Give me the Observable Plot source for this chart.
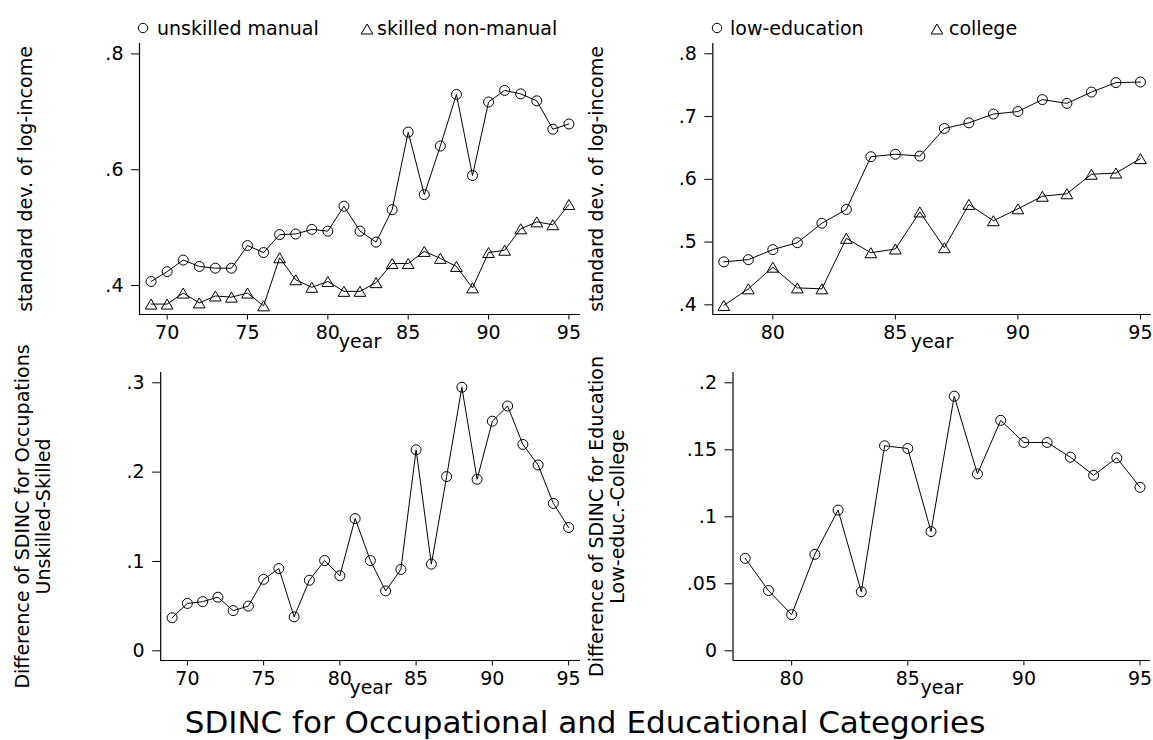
<!DOCTYPE html>
<html>
<head>
<meta charset="utf-8">
<script src="https://cdn.jsdelivr.net/npm/d3@7"></script>
<script src="https://cdn.jsdelivr.net/npm/@observablehq/plot@0.6"></script>
<style>
  html, body { margin: 0; padding: 0; background: #fff; }
  #root { position: relative; width: 1153px; height: 740px; overflow: hidden; font-family: "DejaVu Sans", sans-serif; color: #000; background: #fff; }
  .panel { position: absolute; }
  .leg { position: absolute; font-size: 19px; line-height: 19px; white-space: nowrap; }
  .sym { position: absolute; overflow: visible; }
  #title { position: absolute; left: 20px; width: 1130px; text-align: center; font-size: 31px; line-height: 31px; white-space: nowrap; }
</style>
</head>
<body>
<div id="root"></div>
<script>
// ---------------- data ----------------
const yearsOcc = [69, 70, 71, 72, 73, 74, 75, 76, 77, 78, 79, 80, 81, 82, 83, 84, 85, 86, 87, 88, 89, 90, 91, 92, 93, 94, 95];
const unskilledManual = [0.407, 0.424, 0.444, 0.433, 0.430, 0.430, 0.469, 0.457, 0.488, 0.489, 0.497, 0.494, 0.537, 0.494, 0.475, 0.531, 0.665, 0.557, 0.641, 0.730, 0.590, 0.717, 0.737, 0.731, 0.719, 0.670, 0.679];
const skilledNonManual = [0.368, 0.368, 0.387, 0.370, 0.382, 0.380, 0.387, 0.365, 0.448, 0.410, 0.397, 0.407, 0.390, 0.390, 0.405, 0.438, 0.438, 0.459, 0.447, 0.433, 0.396, 0.457, 0.461, 0.498, 0.510, 0.505, 0.540];
const diffOcc = [0.037, 0.053, 0.055, 0.060, 0.045, 0.050, 0.080, 0.092, 0.038, 0.079, 0.101, 0.084, 0.148, 0.101, 0.067, 0.091, 0.225, 0.097, 0.195, 0.295, 0.192, 0.257, 0.274, 0.231, 0.208, 0.165, 0.138];

const yearsEdu = [78, 79, 80, 81, 82, 83, 84, 85, 86, 87, 88, 89, 90, 91, 92, 93, 94, 95];
const lowEducation = [0.4685, 0.472, 0.488, 0.499, 0.530, 0.552, 0.636, 0.640, 0.637, 0.681, 0.690, 0.704, 0.708, 0.727, 0.721, 0.739, 0.754, 0.755];
const college = [0.399, 0.4255, 0.460, 0.427, 0.4255, 0.506, 0.483, 0.489, 0.548, 0.491, 0.560, 0.534, 0.553, 0.573, 0.577, 0.608, 0.610, 0.633];
const diffEdu = [0.069, 0.045, 0.027, 0.072, 0.105, 0.044, 0.153, 0.151, 0.089, 0.190, 0.132, 0.172, 0.1555, 0.1555, 0.1445, 0.131, 0.144, 0.122];

const xTicksOcc = [70, 75, 80, 85, 90, 95];
const xTicksEdu = [80, 85, 90, 95];
const yTicksOccLevel = [0.4, 0.6, 0.8];
const yTicksEduLevel = [0.4, 0.5, 0.6, 0.7, 0.8];
const yTicksOccDiff = [0, 0.1, 0.2, 0.3];
const yTicksEduDiff = [0, 0.05, 0.1, 0.15, 0.2];

const legendOcc = ["unskilled manual", "skilled non-manual"];
const legendEdu = ["low-education", "college"];
const yLabelLevel = "standard dev. of log-income";
const yLabelOccDiff = "Difference of SDINC for Occupations\nUnskilled-Skilled";
const yLabelEduDiff = "Difference of SDINC for Education\nLow-educ.-College";
const xLabel = "year";
const titleText = "SDINC for Occupational and Educational Categories";

// ---------------- helpers ----------------
const FONT = "DejaVu Sans";
const fmt = d => d === 0 ? "0" : d3.format(".2~f")(d).replace(/^0\./, ".");

const triangle = {
  draw(ctx, size) {
    const r = Math.sqrt(size / Math.PI);
    const hw = 1.17 * r, hh = 1.0 * r;
    ctx.moveTo(0, -hh);
    ctx.lineTo(hw, hh);
    ctx.lineTo(-hw, hh);
    ctx.closePath();
  }
};

function makePanel(cfg) {
  const marks = [
    Plot.ruleX([cfg.xDomain[0]], {stroke: "#000", strokeWidth: 1.2}),
    Plot.ruleY([cfg.yDomain[0]], {stroke: "#000", strokeWidth: 1.2}),
    Plot.axisX(cfg.xTicks, {tickSize: 5.5, tickPadding: 5, fontSize: 19, fontFamily: FONT, label: null, tickFormat: d => String(d), stroke: "#000", fill: "#000"}),
    Plot.axisY(cfg.yTicks, {tickSize: 8, tickPadding: 8, fontSize: 19, fontFamily: FONT, label: null, tickFormat: fmt, stroke: "#000", fill: "#000"}),
    Plot.text([xLabel], {frameAnchor: "bottom", dy: 33, fontSize: 19, fontFamily: FONT, fill: "#000"}),
    Plot.text([cfg.ylabel], {frameAnchor: "left", textAnchor: "middle", lineAnchor: "middle", rotate: -90, dx: cfg.ylabelDx, fontSize: 19, fontFamily: FONT, lineHeight: 1.1, fill: "#000"})
  ];
  cfg.series.forEach(s => {
    const rows = cfg.years.map((year, i) => ({year, value: s.values[i]}));
    marks.push(Plot.line(rows, {x: "year", y: "value", stroke: "#000", strokeWidth: 1}));
    marks.push(Plot.dot(rows, {x: "year", y: "value", r: 5, stroke: "#000", strokeWidth: 1, fill: "none", symbol: s.symbol}));
  });
  const svg = Plot.plot({
    width: cfg.width,
    height: cfg.height,
    marginLeft: cfg.ml,
    marginRight: cfg.mr,
    marginTop: cfg.mt,
    marginBottom: cfg.mb,
    x: {domain: cfg.xDomain},
    y: {domain: cfg.yDomain},
    style: {fontFamily: FONT, fontSize: "19px", background: "transparent", overflow: "visible", color: "#000"},
    marks
  });
  const div = document.createElement("div");
  div.className = "panel";
  div.style.left = cfg.left + "px";
  div.style.top = cfg.top + "px";
  div.style.width = cfg.width + "px";
  div.style.height = cfg.height + "px";
  div.appendChild(svg);
  return div;
}

const root = document.getElementById("root");

// top-left: occupations levels
root.appendChild(makePanel({
  left: 0, top: 40, width: 586, height: 322, ml: 139, mr: 6, mt: 3, mb: 48,
  xDomain: [68.28, 95.72], yDomain: [0.35, 0.818],
  xTicks: xTicksOcc, yTicks: yTicksOccLevel, years: yearsOcc,
  ylabel: yLabelLevel, ylabelDx: -114.5,
  series: [{values: unskilledManual, symbol: "circle"}, {values: skilledNonManual, symbol: triangle}]
}));
// top-right: education levels
root.appendChild(makePanel({
  left: 586, top: 40, width: 567, height: 322, ml: 126.3, mr: 2.3, mt: 3, mb: 48,
  xDomain: [77.55, 95.44], yDomain: [0.3846, 0.8164],
  xTicks: xTicksEdu, yTicks: yTicksEduLevel, years: yearsEdu,
  ylabel: yLabelLevel, ylabelDx: -116.3,
  series: [{values: lowEducation, symbol: "circle"}, {values: college, symbol: triangle}]
}));
// bottom-left: occupation difference
root.appendChild(makePanel({
  left: 0, top: 362, width: 586, height: 343, ml: 160.2, mr: 6, mt: 10, mb: 45,
  xDomain: [68.25, 95.78], yDomain: [-0.01086, 0.3115],
  xTicks: xTicksOcc, yTicks: yTicksOccDiff, years: yearsOcc,
  ylabel: yLabelOccDiff, ylabelDx: -127.7,
  series: [{values: diffOcc, symbol: "circle"}]
}));
// bottom-right: education difference
root.appendChild(makePanel({
  left: 586, top: 362, width: 567, height: 343, ml: 146.5, mr: 3, mt: 10, mb: 45,
  xDomain: [77.475, 95.45], yDomain: [-0.00724, 0.2077],
  xTicks: xTicksEdu, yTicks: yTicksEduDiff, years: yearsEdu,
  ylabel: yLabelEduDiff, ylabelDx: -126.5,
  series: [{values: diffEdu, symbol: "circle"}]
}));

// legends (HTML above each top panel)
const circlePath = d3.symbol(d3.symbolCircle, Math.PI * 4.7 * 4.7)();
const triPath = d3.symbol(triangle, Math.PI * 5 * 5)();
function legendItem(symPath, cx, cy, label, textLeft) {
  const ns = "http://www.w3.org/2000/svg";
  const s = document.createElementNS(ns, "svg");
  s.setAttribute("class", "sym");
  s.setAttribute("width", 16); s.setAttribute("height", 16);
  s.style.left = (cx - 8) + "px"; s.style.top = (cy - 8) + "px";
  const p = document.createElementNS(ns, "path");
  p.setAttribute("d", symPath);
  p.setAttribute("transform", "translate(8,8)");
  p.setAttribute("fill", "none"); p.setAttribute("stroke", "#000"); p.setAttribute("stroke-width", 1);
  s.appendChild(p);
  root.appendChild(s);
  const t = document.createElement("div");
  t.className = "leg";
  t.textContent = label;
  t.style.left = textLeft + "px";
  t.style.top = "18.6px";
  root.appendChild(t);
}
legendItem(circlePath, 142.7, 27.7, legendOcc[0], 157);
legendItem(triPath, 367, 28.5, legendOcc[1], 377);
legendItem(circlePath, 717.4, 27.7, legendEdu[0], 730);
legendItem(triPath, 936.8, 28.5, legendEdu[1], 949);

// overall title
const title = document.createElement("div");
title.id = "title";
title.textContent = titleText;
title.style.top = "707.3px";
root.appendChild(title);
</script>
</body>
</html>
